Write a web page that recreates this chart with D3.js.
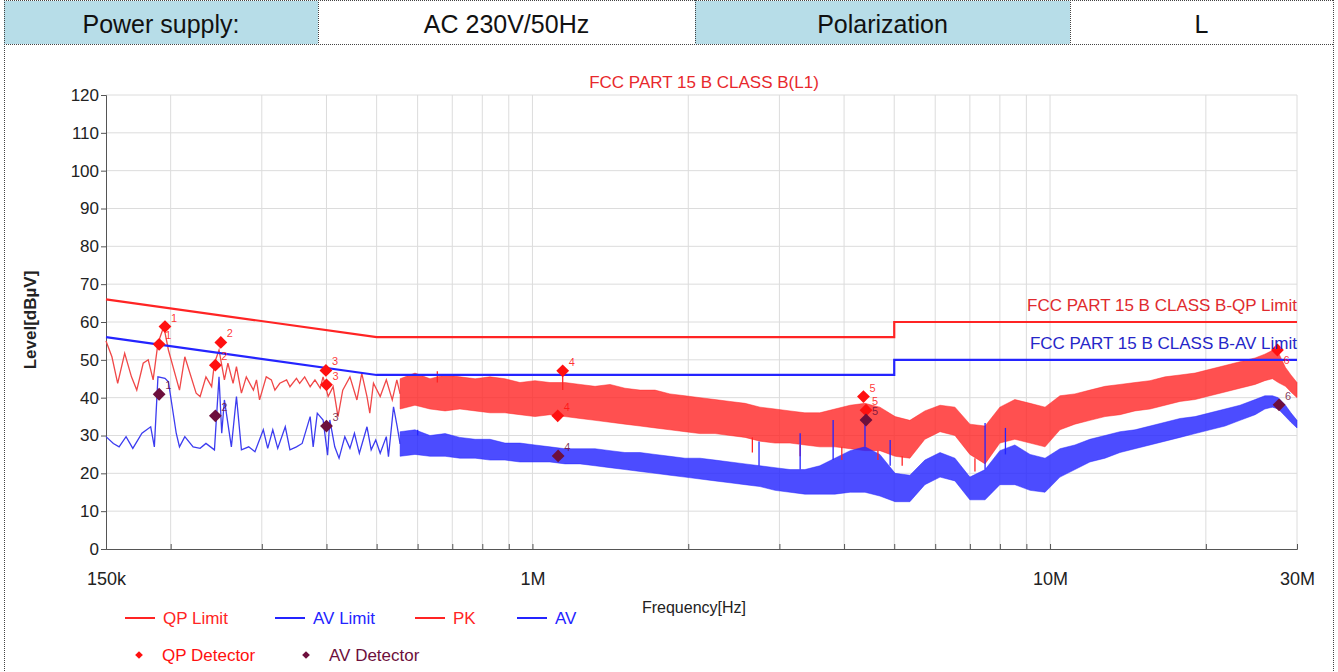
<!DOCTYPE html>
<html>
<head>
<meta charset="utf-8">
<script src="https://cdn.jsdelivr.net/npm/d3@7"></script>
<style>
  body { margin: 0; background: #fff; }
  svg { display: block; font-family: Arial, "Liberation Sans", sans-serif; }
</style>
</head>
<body>
<svg id="chart"></svg>
<script>
// header table
const headerTexts = ["Power supply:", "AC 230V/50Hz", "Polarization", "L"];

// axes
const levelTicks = [0, 10, 20, 30, 40, 50, 60, 70, 80, 90, 100, 110, 120];
const freqMajor = [0.15, 1, 10, 30];
const freqMajorLabels = ["150k", "1M", "10M", "30M"];
const freqMinor = [0.2, 0.3, 0.4, 0.5, 0.6, 0.7, 0.8, 0.9, 2, 3, 4, 5, 6, 7, 8, 9, 20];

// limits [MHz, dBuV]
const qpLimit = [[0.15, 66], [0.5, 56], [5, 56], [5, 60], [30, 60]];
const avLimit = [[0.15, 56], [0.5, 46], [5, 46], [5, 50], [30, 50]];

// PK / AV traces below 550 kHz (single readings)
const pkLowBand = [[0.150, 55], [0.154, 50.8], [0.158, 43.8], [0.163, 51.7], [0.168, 45.5], [0.172, 42.0], [0.177, 49.1],
  [0.181, 50.0], [0.185, 44.7], [0.189, 54.4], [0.194, 58.8], [0.198, 52.6], [0.208, 42.0], [0.213, 50.8], [0.224, 41.2],
  [0.228, 40.3], [0.234, 45.5], [0.240, 42.9], [0.243, 49.1], [0.248, 52.6], [0.254, 44.7], [0.258, 49.1], [0.264, 43.8],
  [0.268, 48.2], [0.274, 41.2], [0.280, 45.5], [0.289, 42.0], [0.293, 44.7], [0.297, 39.4], [0.306, 45.5], [0.313, 44.7],
  [0.318, 42.0], [0.325, 43.8], [0.335, 44.7], [0.340, 42.9], [0.350, 45.1], [0.355, 43.8], [0.363, 45.5], [0.372, 42.9],
  [0.380, 44.7], [0.389, 42.5], [0.394, 45.5], [0.403, 40.3], [0.412, 42.9], [0.421, 35.0], [0.430, 42.0], [0.444, 45.5],
  [0.458, 39.4], [0.468, 46.4], [0.479, 40.3], [0.485, 35.9], [0.493, 43.8], [0.508, 40.3], [0.522, 44.7], [0.536, 39.4],
  [0.547, 44.7]];
const avLowBand = [[0.150, 29.7], [0.155, 27.9], [0.159, 27.0], [0.164, 29.7], [0.169, 26.6], [0.176, 30.6], [0.183, 32.3],
  [0.186, 27.0], [0.189, 45.5], [0.195, 45.1], [0.198, 44.2], [0.205, 30.6], [0.208, 27.0], [0.213, 29.7], [0.221, 27.0],
  [0.228, 26.6], [0.234, 27.9], [0.243, 26.2], [0.248, 45.5], [0.251, 30.6], [0.254, 39.4], [0.262, 27.0], [0.268, 40.3],
  [0.274, 26.2], [0.283, 27.0], [0.291, 25.7], [0.302, 31.5], [0.308, 26.6], [0.315, 31.5], [0.322, 26.6], [0.333, 32.3],
  [0.340, 26.2], [0.350, 27.0], [0.359, 27.9], [0.372, 35.0], [0.377, 27.0], [0.384, 35.9], [0.394, 34.1], [0.402, 24.8],
  [0.406, 34.1], [0.415, 27.0], [0.423, 24.0], [0.434, 29.7], [0.444, 26.6], [0.453, 30.6], [0.463, 25.3], [0.479, 32.3],
  [0.488, 26.2], [0.498, 28.8], [0.508, 25.3], [0.522, 29.7], [0.527, 24.4], [0.539, 37.6], [0.548, 32.3]];

// dense part of the sweep: min / max readings per frequency
const bandFreqs = [0.555, 0.593, 0.634, 0.678, 0.724, 0.775, 0.828, 0.885, 0.946, 1.011, 1.081, 1.156, 1.236, 1.321,
  1.412, 1.509, 1.614, 1.725, 1.843, 1.971, 2.107, 2.253, 2.408, 2.575, 2.752, 2.942, 3.145, 3.36, 3.59, 3.84, 4.11,
  4.39, 4.69, 5.02, 5.36, 5.73, 6.13, 6.55, 7.00, 7.49, 8.00, 8.55, 9.15, 9.78, 10.45, 11.17, 11.94, 12.77, 13.65,
  14.59, 15.60, 16.68, 17.83, 19.06, 20.37, 21.78, 23.28, 24.9, 26.0, 26.9, 27.6, 28.5, 29.2, 30.0];
const pkHigh = [45, 46.5, 45, 46, 45.5, 45, 45.5, 45, 44, 44.5, 44, 44, 43.5, 43, 43.5, 42.5, 42, 42, 41, 40.5, 40, 39.5,
  39, 38.5, 37.5, 37, 36.5, 36, 36, 37, 38, 38.5, 37.5, 35, 34, 36.5, 38, 37.5, 33, 32.5, 37.5, 39.5, 38.5, 37.5, 40.5,
  41, 42, 43, 43.5, 44, 44.5, 45.5, 46, 46.5, 47.5, 48.5, 49.5, 50.5, 51.5, 52.5, 52, 48, 46, 44];
const pkLow = [37, 38, 37, 36.5, 37, 36.5, 36, 36, 35.5, 35, 35.5, 35, 34.5, 34, 33.5, 33, 32.5, 32, 31.5, 31, 30.5, 30.5,
  30, 29.5, 28.5, 28, 28, 27.5, 27, 27, 26.5, 26, 26, 24.5, 24, 29, 31, 30, 25, 22.5, 28, 29, 28, 27, 31.5, 33, 34, 35,
  35.5, 36.5, 37, 38, 39, 39.5, 40.5, 41.5, 42.5, 43.5, 44.5, 45, 44, 43, 41.5, 40];
const avHigh = [31, 31.5, 30, 30.5, 29.5, 29, 29, 28, 28, 27.5, 27, 26.5, 26.5, 26.5, 26, 25.5, 25.5, 25, 24.5, 24, 24,
  23.5, 23, 22.5, 22, 21.5, 21, 21, 22, 24, 26, 27, 25, 20, 19.5, 23.5, 25.5, 24, 19, 21, 26, 27.5, 25, 24, 26.5, 27.5,
  29, 30, 31, 31.5, 32.5, 33.5, 34.5, 35, 36, 37, 38, 39.5, 40.5, 40.5, 40, 38, 36, 34];
const avLow = [24.5, 25, 24.5, 24.5, 24, 24, 23.5, 23.5, 23, 23, 23, 22.5, 22.5, 22, 21.5, 21, 20.5, 20, 19.5, 19, 18.5,
  18, 17.5, 17, 16.5, 15.5, 15, 14.5, 14.5, 14.5, 15, 15, 14, 12.5, 12.5, 17, 19, 18, 13, 13, 17, 17, 15.5, 15, 19, 21,
  23, 24, 25.5, 26.5, 27.5, 28.5, 29.5, 30.5, 31.5, 32.5, 34, 35.5, 37, 37.5, 37, 35, 33.5, 32];

// isolated spikes [MHz, from, to]
const pkSpikes = [[0.655, 44, 47], [1.144, 42, 47.1], [2.66, 29.5, 25.5], [3.29, 27.5, 24.5], [3.96, 27, 23.5],
  [4.65, 26, 23.5], [5.18, 24.5, 22], [7.16, 24, 20.5]];
const avSpikes = [[0.6, 30, 31.5], [2.74, 22, 28.4], [3.29, 21, 30.6], [3.81, 23.5, 34.1], [4.39, 27, 34.1],
  [4.91, 22, 28.8], [7.49, 21, 33.3], [8.2, 25, 32]];

// detector readings
const qpFreq = [0.190, 0.195, 0.244, 0.250, 0.399, 0.400, 1.144, 1.119, 4.36, 4.41, 27.5];
const qpLevel = [54.1, 58.8, 48.6, 54.6, 47.2, 43.4, 47.1, 35.2, 40.3, 36.7, 52.6];
const qpNo = [1, 1, 2, 2, 3, 3, 4, 4, 5, 5, 6];
const avFreq = [0.190, 0.244, 0.400, 1.121, 4.41, 27.7];
const avLevel = [40.9, 35.2, 32.5, 24.6, 34.1, 38.1];
const avNo = [1, 2, 3, 4, 5, 6];

const RED = "#ff2424", BLUE = "#2424ff", MAROON = "#6d0f3c";

const width = 1338, height = 672;
const svg = d3.select("#chart").attr("width", width).attr("height", height);

// ---- header row
const cellEdges = [4, 318, 695, 1070, 1333];
const header = svg.append("g");
headerTexts.forEach((t, i) => {
  header.append("rect")
    .attr("x", cellEdges[i]).attr("y", 1)
    .attr("width", cellEdges[i + 1] - cellEdges[i]).attr("height", 43)
    .attr("fill", i % 2 === 0 ? "#b7dde8" : "#fff");
  header.append("text")
    .attr("x", (cellEdges[i] + cellEdges[i + 1]) / 2).attr("y", 33)
    .attr("text-anchor", "middle")
    .style("font-size", "25px").attr("fill", "#111")
    .text(t);
});
const dotted = (x1, y1, x2, y2) => svg.append("line")
  .attr("x1", x1).attr("y1", y1).attr("x2", x2).attr("y2", y2)
  .attr("stroke", "#444").attr("stroke-width", 1).attr("stroke-dasharray", "1,1");
dotted(4, 0.5, 1333, 0.5);
dotted(4, 44.5, 1333, 44.5);
cellEdges.forEach(x => dotted(x + 0.5, 0, x + 0.5, 44));
dotted(4.5, 44, 4.5, height);
dotted(1333.5, 44, 1333.5, height);

// ---- scales
const x = d3.scaleLog().domain([0.15, 30]).range([106, 1297]);
const y = d3.scaleLinear().domain([0, 120]).range([549, 95]);

// grid
const grid = svg.append("g").attr("stroke", "#dcdcdc").attr("stroke-width", 1);
grid.selectAll(".gv").data(freqMinor.concat([1, 10, 30])).enter().append("line")
  .attr("x1", d => x(d)).attr("x2", d => x(d))
  .attr("y1", y(0)).attr("y2", y(120));
grid.selectAll(".gh").data(levelTicks.slice(1)).enter().append("line")
  .attr("x1", x(0.15)).attr("x2", x(30))
  .attr("y1", d => y(d)).attr("y2", d => y(d));

// axes
const yAxis = svg.append("g")
  .attr("transform", `translate(${x(0.15)},0)`)
  .call(d3.axisLeft(y).tickValues(levelTicks).tickSize(5).tickPadding(2).tickFormat(d3.format("d")));
yAxis.selectAll("text").style("font-size", "17px").attr("fill", "#222");

const xAxis = svg.append("g")
  .attr("transform", `translate(0,${y(0)})`)
  .call(d3.axisBottom(x)
    .tickValues(freqMajor.concat(freqMinor))
    .tickSize(-5).tickPadding(23)
    .tickFormat(d => {
      const i = freqMajor.indexOf(d);
      return i >= 0 ? freqMajorLabels[i] : "";
    }));
xAxis.selectAll("text").style("font-size", "18px").attr("fill", "#222");
[yAxis, xAxis].forEach(a => {
  a.select(".domain").attr("stroke", "#555");
  a.selectAll(".tick line").attr("stroke", "#555");
});

// ---- traces
const plot = svg.append("g");
const line = d3.line().x(d => x(d[0])).y(d => y(d[1]));

const pkBand = bandFreqs.map((f, i) => ({ f, lo: pkLow[i], hi: pkHigh[i] }));
const avBand = bandFreqs.map((f, i) => ({ f, lo: avLow[i], hi: avHigh[i] }));
const band = d3.area().x(d => x(d.f)).y0(d => y(d.lo)).y1(d => y(d.hi));

plot.append("path").datum(pkBand).attr("d", band)
  .attr("fill", RED).attr("fill-opacity", 0.8)
  .attr("stroke", RED).attr("stroke-width", 0.8).attr("stroke-opacity", 0.6);
plot.append("path").datum(pkLowBand.concat([[bandFreqs[0], (pkLow[0] + pkHigh[0]) / 2]])).attr("d", line)
  .attr("fill", "none").attr("stroke", "#f04848").attr("stroke-width", 1.3);

plot.append("path").datum(avBand).attr("d", band)
  .attr("fill", BLUE).attr("fill-opacity", 0.82)
  .attr("stroke", BLUE).attr("stroke-width", 0.8).attr("stroke-opacity", 0.6);
plot.append("path").datum(avLowBand.concat([[bandFreqs[0], (avLow[0] + avHigh[0]) / 2]])).attr("d", line)
  .attr("fill", "none").attr("stroke", "#3c3cf0").attr("stroke-width", 1.3);

const spike = (data, color) => plot.selectAll(null).data(data).enter().append("line")
  .attr("x1", d => x(d[0])).attr("x2", d => x(d[0]))
  .attr("y1", d => y(d[1])).attr("y2", d => y(d[2]))
  .attr("stroke", color).attr("stroke-width", 1.3);
spike(pkSpikes, RED);
spike(avSpikes, BLUE);

// limits
plot.append("path").datum(qpLimit).attr("d", line)
  .attr("fill", "none").attr("stroke", RED).attr("stroke-width", 2.2);
plot.append("path").datum(avLimit).attr("d", line)
  .attr("fill", "none").attr("stroke", BLUE).attr("stroke-width", 2.2);

// detector markers
const diamond = d3.symbol().type(d3.symbolSquare).size(82)();
const markers = (freqs, levels, nos, color) => {
  const g = plot.append("g");
  freqs.forEach((f, i) => {
    g.append("path").attr("d", diamond)
      .attr("transform", `translate(${x(f)},${y(levels[i])}) rotate(45)`)
      .attr("fill", color);
    // the last QP label would sit under the AV limit text, so put it below the marker
    const below = x(f) > 1250 && color !== MAROON;
    g.append("text")
      .attr("x", x(f) + 6).attr("y", y(levels[i]) + (below ? 14 : -5))
      .style("font-size", "11px").attr("fill", color).attr("fill-opacity", 0.85)
      .text(nos[i]);
  });
};
markers(qpFreq, qpLevel, qpNo, "#ff1010");
markers(avFreq, avLevel, avNo, MAROON);

// ---- titles and labels
svg.append("text").attr("x", 704).attr("y", 88).attr("text-anchor", "middle")
  .style("font-size", "17px").attr("fill", "#e8282c").text("FCC PART 15 B CLASS B(L1)");
svg.append("text").attr("x", 1297).attr("y", 311).attr("text-anchor", "end")
  .style("font-size", "17px").attr("fill", "#e02a2e").text("FCC PART 15 B CLASS B-QP Limit");
svg.append("text").attr("x", 1297).attr("y", 349).attr("text-anchor", "end")
  .style("font-size", "17px").attr("fill", "#2626c8").text("FCC PART 15 B CLASS B-AV Limit");
svg.append("text").attr("transform", "translate(36,320) rotate(-90)").attr("text-anchor", "middle")
  .style("font-size", "17px").style("font-weight", "bold").attr("fill", "#222").text("Level[dBµV]");
svg.append("text").attr("x", 694).attr("y", 613).attr("text-anchor", "middle")
  .style("font-size", "16px").attr("fill", "#222").text("Frequency[Hz]");

// ---- legend
const legendLines = [
  { name: "QP Limit", color: RED, x: 125 },
  { name: "AV Limit", color: BLUE, x: 275 },
  { name: "PK", color: RED, x: 415 },
  { name: "AV", color: BLUE, x: 517 }
];
legendLines.forEach(d => {
  svg.append("line").attr("x1", d.x).attr("x2", d.x + 30).attr("y1", 618).attr("y2", 618)
    .attr("stroke", d.color).attr("stroke-width", 2);
  svg.append("text").attr("x", d.x + 38).attr("y", 624)
    .style("font-size", "17px").attr("fill", d.color).text(d.name);
});
const legendMarks = [
  { name: "QP Detector", color: "#ff1010", x: 139 },
  { name: "AV Detector", color: MAROON, x: 306 }
];
const smallDiamond = d3.symbol().type(d3.symbolSquare).size(30)();
legendMarks.forEach(d => {
  svg.append("path").attr("d", smallDiamond)
    .attr("transform", `translate(${d.x},655) rotate(45)`).attr("fill", d.color);
  svg.append("text").attr("x", d.x + 23).attr("y", 661)
    .style("font-size", "17px").attr("fill", d.color).text(d.name);
});
</script>
</body>
</html>
